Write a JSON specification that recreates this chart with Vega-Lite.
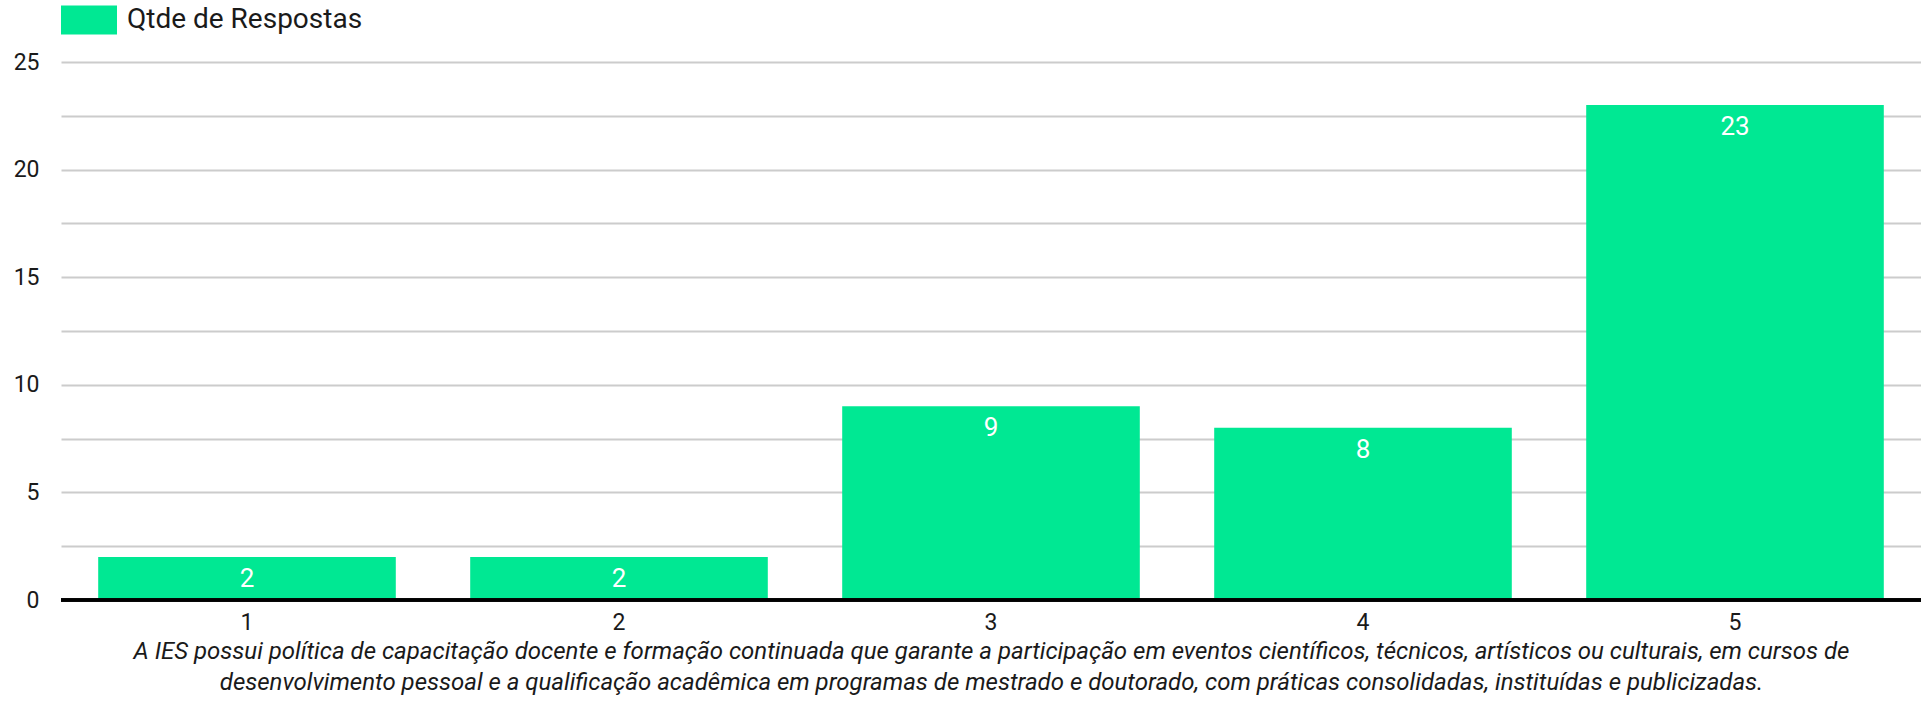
{
  "$schema": "https://vega.github.io/schema/vega-lite/v6.json",
  "autosize": "none",
  "width": 1860,
  "height": 538,
  "padding": {"left": 61, "top": 62, "right": 0, "bottom": 103},
  "background": "white",
  "config": {
    "font": "Roboto",
    "view": {"stroke": null}
  },
  "data": {
    "values": [
      {"nota": "1", "qtde": 2, "serie": "Qtde de Respostas"},
      {"nota": "2", "qtde": 2, "serie": "Qtde de Respostas"},
      {"nota": "3", "qtde": 9, "serie": "Qtde de Respostas"},
      {"nota": "4", "qtde": 8, "serie": "Qtde de Respostas"},
      {"nota": "5", "qtde": 23, "serie": "Qtde de Respostas"}
    ]
  },
  "layer": [
    {
      "mark": {"type": "bar", "color": "#00E893"},
      "encoding": {
        "x": {
          "field": "nota",
          "type": "nominal",
          "sort": null,
          "scale": {"paddingInner": 0.2, "paddingOuter": 0.1},
          "axis": {
            "labelAngle": 0,
            "labelFontSize": 23,
            "labelColor": "#1a1a1a",
            "labelPadding": 11,
            "ticks": false,
            "domain": false,
            "title": [
              "A IES possui política de capacitação docente e formação continuada que garante a participação em eventos científicos, técnicos, artísticos ou culturais, em cursos de",
              "desenvolvimento pessoal e a qualificação acadêmica em programas de mestrado e doutorado, com práticas consolidadas, instituídas e publicizadas."
            ],
            "titleFontStyle": "italic",
            "titleFontWeight": "normal",
            "titleFontSize": 24,
            "titleLineHeight": 31,
            "titleColor": "#1a1a1a",
            "titlePadding": 5
          }
        },
        "y": {
          "field": "qtde",
          "type": "quantitative",
          "scale": {"domain": [0, 25], "nice": false},
          "axis": {
            "values": [0, 2.5, 5, 7.5, 10, 12.5, 15, 17.5, 20, 22.5, 25],
            "labelExpr": "datum.value % 5 === 0 ? datum.label : ''",
            "labelFontSize": 23,
            "labelColor": "#1a1a1a",
            "labelPadding": 22,
            "ticks": false,
            "domain": false,
            "title": null,
            "gridColor": "#cccccc",
            "gridWidth": 2,
            "gridOpacity": 1
          }
        },
        "color": {
          "field": "serie",
          "type": "nominal",
          "scale": {"range": ["#00E893"]},
          "legend": {
            "orient": "none",
            "legendX": 0,
            "legendY": -70,
            "title": null,
            "symbolType": "M-1,-0.52H1V0.52H-1Z",
            "symbolSize": 3136,
            "symbolStrokeWidth": 0,
            "symbolOpacity": 1,
            "labelFontSize": 28,
            "labelLimit": 0,
            "labelColor": "#1a1a1a",
            "labelOffset": 10
          }
        }
      }
    },
    {
      "mark": {"type": "text", "color": "white", "baseline": "top", "dy": 9, "fontSize": 26},
      "encoding": {
        "x": {"field": "nota", "type": "nominal", "sort": null},
        "y": {"field": "qtde", "type": "quantitative"},
        "text": {"field": "qtde", "type": "quantitative"}
      }
    },
    {
      "mark": {"type": "rule", "color": "black", "strokeWidth": 3},
      "encoding": {"y": {"datum": 0}}
    }
  ]
}
